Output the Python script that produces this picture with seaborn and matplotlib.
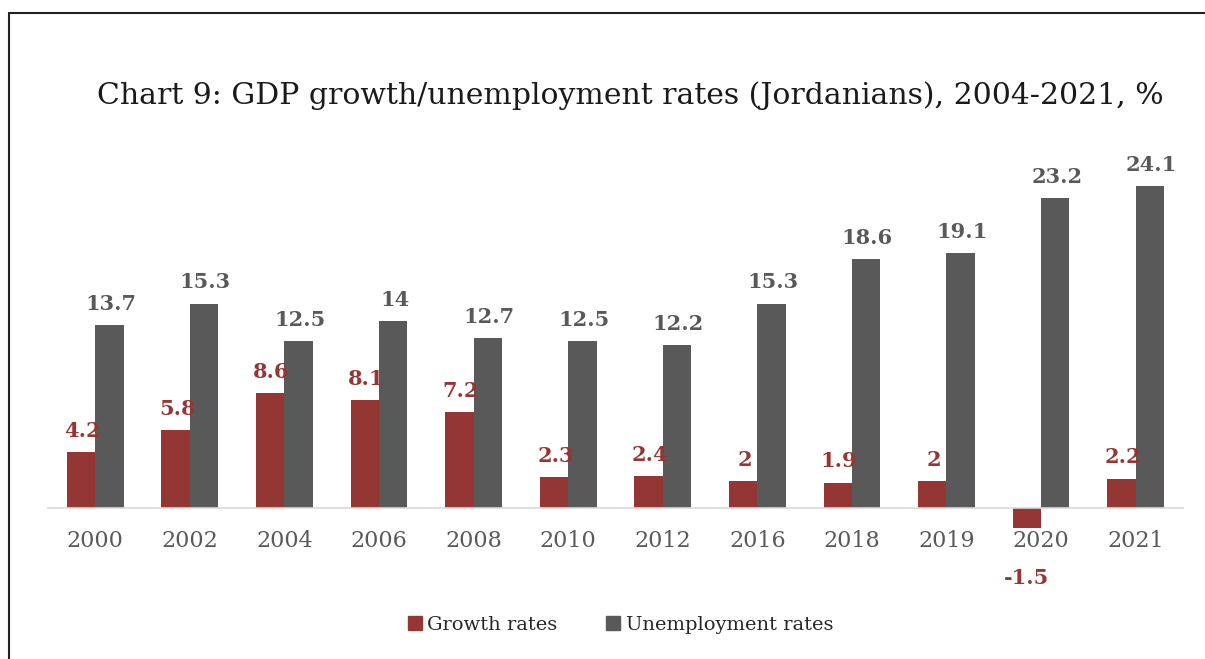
import numpy as np
import pandas as pd
import matplotlib
matplotlib.use("Agg")
import matplotlib.pyplot as plt
import seaborn as sns
from matplotlib.lines import Line2D
from matplotlib.patches import Patch

years = ["2000", "2002", "2004", "2006", "2008", "2010", "2012", "2016", "2018", "2019", "2020", "2021"]
growth = [4.2, 5.8, 8.6, 8.1, 7.2, 2.3, 2.4, 2, 1.9, 2, -1.5, 2.2]
unemployment = [13.7, 15.3, 12.5, 14, 12.7, 12.5, 12.2, 15.3, 18.6, 19.1, 23.2, 24.1]
series_names = ["Growth rates", "Unemployment rates"]
colors = ["#943634", "#595959"]

df = pd.DataFrame({
    "year": years * 2,
    "value": growth + unemployment,
    "series": [series_names[0]] * len(years) + [series_names[1]] * len(years),
})

sns.set_style("white")
plt.rcParams["font.family"] = ["DejaVu Serif"]

fig = plt.figure(figsize=(12.05, 6.59), dpi=100)
ax = fig.add_axes([0.0398, 0.1785, 0.9419, 0.5778])

sns.barplot(data=df, x="year", y="value", hue="series", palette=colors,
            width=0.6, gap=0, ax=ax, legend=False, saturation=1, linewidth=0)

ax.set_ylim(-2.5, 26)
ax.set_xlim(-0.5, len(years) - 0.5)
ax.set_xlabel("")
ax.set_ylabel("")
ax.set_yticks([])
for s in ["top", "right", "left"]:
    ax.spines[s].set_visible(False)
ax.spines["bottom"].set_position(("data", 0))
ax.spines["bottom"].set_color("#d9d9d9")
ax.spines["bottom"].set_linewidth(1.2)
ax.tick_params(axis="x", length=0, pad=16, labelsize=16, labelcolor="#595959")

# value labels
for container, col in zip(ax.containers, colors):
    for bar in container:
        v = bar.get_height()
        x = bar.get_x() + bar.get_width() / 2
        if v >= 0:
            ax.annotate(f"{v:g}", (x, v), xytext=(1, 8), textcoords="offset points",
                        ha="center", va="bottom", fontsize=15, fontweight="bold", color=col)
        else:
            ax.annotate(f"{v:g}", (x, v), xytext=(0, -29), textcoords="offset points",
                        ha="center", va="top", fontsize=15, fontweight="bold", color=col)

fig.text(0.523, 0.855, "Chart 9: GDP growth/unemployment rates (Jordanians), 2004-2021, %",
         ha="center", va="center", fontsize=21.5, family="DejaVu Serif", color="#1a1a1a")

handles = [Patch(color=c, label=n) for c, n in zip(colors, series_names)]
fig.legend(handles=handles, loc="center", bbox_to_anchor=(0.515, 0.052), ncol=2,
           frameon=False, fontsize=14, handlelength=0.7, handleheight=0.7,
           handletextpad=0.3, columnspacing=2.5)

# frame lines on left and top like the reference
fig.add_artist(Line2D([9 / 1205, 9 / 1205], [0, 1 - 13 / 659], color="#222222", lw=1.5))
fig.add_artist(Line2D([9 / 1205, 1], [1 - 13 / 659, 1 - 13 / 659], color="#222222", lw=1.5))

fig.savefig("out.png", dpi=100)
